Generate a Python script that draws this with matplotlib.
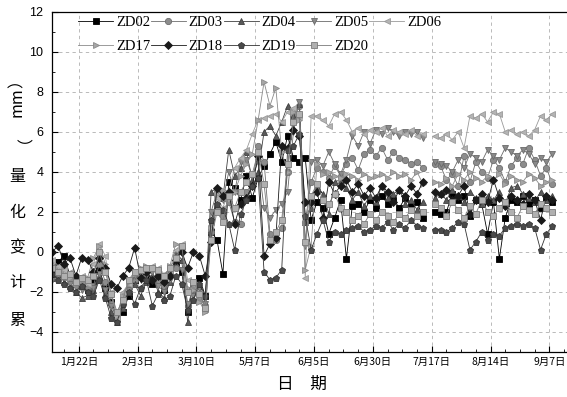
import numpy as np
import matplotlib
matplotlib.use("Agg")
import matplotlib.pyplot as plt
from matplotlib.ticker import MultipleLocator

nan = np.nan

# measurement index (every second survey), gap between 7月 and 8月 data
obs_index = list(range(1, 172, 2))

tick_pos = [10, 30, 50, 70, 90, 110, 130, 150, 170]
tick_labels = ["1月22日", "2月3日", "3月10日", "5月7日", "6月5日",
               "6月30日", "7月17日", "8月14日", "9月7日"]

zd02 = [-1.0, -0.5, -0.2, -1.2, -1.5, -1.7, -1.9, -1.5, -0.9, -1.8,
        -2.5, -3.2, -3.0, -2.2, -1.4, -1.0, -1.3, -1.6, -1.2, -1.9,
        -1.1, -0.6, -1.0, -3.0, -1.6, -1.3, -2.2,
        1.0, 0.6, -1.1, 3.5, 3.2, 2.6, 3.8, 2.7, 3.7, 4.3, 4.9, 5.5, 4.5, 5.8, 4.7, 4.5, 4.7,
        1.6, 2.5, 2.2, 0.9, 1.7, 2.6, -0.35, 2.3, 2.4, 2.0,
        2.6, 2.2, 2.8, 2.4, 2.6, 2.2, 2.7, 2.3, 2.5, 1.7, nan,
        2.0, 1.9, 2.0, 2.9, 2.6, 2.8, 1.8, 2.6, 2.4, 0.9,
        2.5, -0.35, 1.7, 2.6, 2.5, 2.8, 2.4, 2.6, 2.2, 2.7, 2.5]
zd03 = [-1.2, -1.0, -0.8, -1.4, -1.6, -1.5, -1.8, -1.7, -0.6, -1.5,
        -2.6, -3.4, -2.6, -1.8, -1.4, -1.2, -1.0, -1.3, -1.5, -1.7,
        -1.1, -0.8, 0.2, -2.7, -1.8, -2.4, -2.9,
        1.0, 2.2, 1.8, 2.5, 1.5, 1.4, 3.0, 3.4, 5.3, 4.5, 0.9, 0.6, 1.2, 4.0, 6.8, 7.3, 1.5,
        3.5, 4.2, 4.0, 3.7, 4.3, 3.8, 4.4, 4.7, 4.1, 4.9,
        5.1, 4.8, 5.2, 4.6, 5.0, 4.7, 4.6, 4.4, 4.5, 4.2, nan,
        4.4, 4.3, 3.6, 3.9, 3.3, 4.8, 3.5, 4.5, 4.0, 3.7,
        4.6, 4.2, 3.5, 4.3, 4.7, 4.4, 5.2, 4.6, 3.8, 4.2, 3.4]
zd04 = [-1.3, -1.1, -1.5, -1.7, -2.0, -2.3, -2.2, -1.9, -1.2, -2.1,
        -3.0, -3.5, -2.8, -2.0, -1.6, -2.2, -1.5, -1.2, -2.0, -2.3,
        -1.5, 0.0, -0.4, -3.5, -2.0, -1.7, -2.5,
        3.0, 3.2, 2.7, 5.1, 3.8, 4.2, 5.0, 3.6, 4.0, 6.0, 6.3, 5.8, 6.5, 7.3, 6.8, 7.4, 1.5,
        2.2, 3.3, 2.9, 1.9, 3.5, 3.6, 3.2, 2.6, 3.0, 2.3,
        2.8, 2.5, 3.3, 2.7, 2.9, 3.1, 2.4, 2.6, 2.1, 2.5, nan,
        2.7, 2.9, 2.6, 3.1, 2.8, 2.5, 3.0, 2.7, 2.4, 2.8,
        2.6, 3.0, 2.4, 3.2, 3.3, 2.9, 2.7, 2.5, 3.0, 2.6, 2.8]
zd05 = [-1.4, -1.2, -1.3, -1.6, -1.8, -1.9, -2.0, -1.8, -1.1, -1.9,
        -2.7, -3.3, -2.5, -1.9, -1.2, -1.4, -1.2, -1.0, -1.7, -2.0,
        -1.4, -0.5, -0.9, -2.6, -2.2, -1.8, -2.6,
        2.0, 3.0, 2.6, 4.0, 3.0, 4.5, 4.6, 3.8, 4.5, 2.2, 1.7, 2.1, 2.4, 3.0, 6.0, 7.5, 0.3,
        4.5, 4.6, 4.3, 5.0, 4.4, 3.9, 4.6, 5.8, 5.3, 6.0,
        5.4, 6.1, 5.9, 6.2, 6.0, 5.8, 6.0, 5.9, 6.0, 5.7, nan,
        4.5, 4.4, 4.3, 4.0, 4.6, 4.2, 4.9, 4.7, 4.5, 5.1,
        4.8, 4.6, 5.2, 5.0, 4.8, 5.1, 4.9, 4.4, 4.7, 4.5, 4.9]
zd06 = [-0.4, -0.7, -0.9, -1.0, -1.3, -1.2, -1.6, -0.6, 0.4, -0.2,
        -2.0, -3.3, -2.0, -1.6, -1.0, -0.9, -0.8, -0.7, -0.8, -1.1,
        -0.9, 0.1, 0.4, -1.4, -1.6, -2.2, -2.8,
        1.5, 2.7, 2.2, 3.0, 4.2, 4.7, 5.1, 5.9, 6.6, 6.7, 6.8, 6.9, 6.5, 7.0, 7.2, 6.8, -1.3,
        6.8, 6.8, 6.6, 6.3, 6.9, 7.0, 6.6, 6.0, 6.2, 5.9,
        6.1, 6.0, 6.2, 5.8, 6.1, 6.0, 5.9, 6.1, 5.8, 5.9, nan,
        5.8, 5.7, 5.9, 5.6, 6.0, 5.2, 6.8, 6.7, 6.9, 6.5,
        7.0, 6.9, 6.0, 6.1, 5.9, 6.0, 5.8, 6.1, 6.8, 6.6, 6.9]
zd17 = [-0.6, -0.9, -1.1, -1.3, -1.6, -1.4, -1.3, -0.3, 0.3, -0.6,
        -2.2, -3.2, -2.2, -1.5, -1.1, -0.8, -0.7, -0.9, -1.0, -1.3,
        -0.7, 0.4, 0.2, -1.8, -1.9, -2.5, -3.0,
        1.2, 2.9, 3.1, 2.6, 3.0, 3.8, 4.4, 4.9, 6.6, 8.5, 7.3, 8.2, 5.0, 4.0, 7.0, 6.6, -0.9,
        0.3, 4.4, 3.9, 4.0, 3.8, 3.7, 3.9, 3.8, 3.6, 3.9,
        3.7, 3.8, 3.9, 3.7, 4.0, 3.8, 3.9, 3.6, 4.0, 3.4, nan,
        3.5, 3.4, 3.7, 3.3, 3.9, 3.6, 4.0, 3.7, 3.5, 3.8,
        3.6, 3.9, 3.4, 3.8, 3.6, 3.5, 3.9, 3.7, 3.3, 3.5, 3.6]
zd18 = [0.0, 0.3, -0.6, -0.3, -1.2, -0.3, -0.4, -1.0, -0.3, -0.8,
        -1.6, -1.8, -1.2, -0.8, 0.2, -1.3, -1.0, -1.4, -1.2, -1.5,
        -1.2, -0.4, 0.0, -0.8, 0.0, -0.2, -1.2,
        0.5, 3.2, 2.8, 3.0, 1.4, 2.4, 2.7, 3.3, 4.8, -0.2, 0.4, 0.7, 5.3, 5.2, 6.1, 5.8, 2.5,
        2.5, 3.0, 1.7, 3.5, 2.9, 3.3, 3.6, 3.0, 3.4, 2.8,
        3.2, 2.7, 3.3, 3.0, 2.5, 3.1, 2.8, 3.3, 2.9, 3.5, nan,
        3.0, 2.9, 3.1, 2.6, 2.8, 3.3, 1.9, 2.6, 2.9, 2.5,
        3.6, 2.7, 2.3, 2.8, 2.6, 2.4, 2.9, 2.6, 1.6, 2.8, 2.6]
zd19 = [-1.1, -1.4, -1.6, -1.8, -2.0, -1.7, -2.0, -2.2, -1.4, -2.3,
        -3.3, -3.5, -2.6, -2.0, -2.6, -1.8, -1.4, -2.7, -2.1, -2.4,
        -2.2, -1.2, -1.6, -2.9, -2.4, -1.6, -2.2,
        1.6, 2.4, 2.1, 1.4, 0.1, 1.9, 2.6, 3.3, 3.7, -1.0, -1.4, -1.3, -0.9, 5.1, 5.3, 5.9, 1.8,
        0.1, 0.9, 1.6, 0.5, 1.0, 0.9, 1.1, 1.2, 1.3, 1.0,
        1.1, 1.3, 1.2, 1.5, 1.1, 1.4, 1.2, 1.6, 1.3, 1.2, nan,
        1.1, 1.1, 1.0, 1.2, 1.5, 1.4, 0.1, 0.5, 1.0, 0.6,
        0.9, 0.8, 1.2, 1.3, 1.4, 1.3, 1.4, 1.2, 0.1, 0.9, 1.3]
zd20 = [-0.8, -1.0, -1.2, -1.1, -1.5, -1.3, -1.4, -1.2, 0.0, -1.0,
        -2.1, -3.0, -2.4, -1.4, -1.0, -0.9, -0.8, -0.8, -0.9, -1.2,
        -0.8, -0.3, 0.3, -2.0, -1.5, -2.1, -2.8,
        0.6, 2.0, 1.5, 2.8, 2.2, 3.0, 3.5, 3.9, 5.0, 3.4, 0.6, 1.0, 1.6, 4.4, 6.5, 6.9, 0.5,
        2.8, 3.4, 2.6, 2.4, 2.9, 2.2, 2.0, 1.6, 1.8, 1.4,
        1.9, 1.6, 2.0, 1.8, 1.5, 1.9, 1.7, 2.1, 1.8, 2.0, nan,
        2.4, 2.2, 1.8, 2.5, 2.1, 1.7, 2.3, 1.9, 2.6, 2.0,
        1.8, 2.2, 2.5, 2.0, 1.7, 2.3, 2.1, 1.9, 2.4, 2.2, 2.0]

# name, values, marker, face colour, edge colour
SERIES = [
    ("ZD02", zd02, "s", "#000000", "#000000"),
    ("ZD03", zd03, "o", "#8c8c8c", "#6e6e6e"),
    ("ZD04", zd04, "^", "#5a5a5a", "#404040"),
    ("ZD05", zd05, "v", "#8a8a8a", "#6a6a6a"),
    ("ZD06", zd06, "<", "#b4b4b4", "#9a9a9a"),
    ("ZD17", zd17, ">", "#a6a6a6", "#8a8a8a"),
    ("ZD18", zd18, "D", "#1a1a1a", "#1a1a1a"),
    ("ZD19", zd19, "p", "#4a4a4a", "#333333"),
    ("ZD20", zd20, "s", "#b0b0b0", "#7a7a7a"),
]

CJK = ["Noto Sans CJK SC", "DejaVu Sans"]

fig = plt.figure(figsize=(5.67, 3.97), dpi=100)
ax = fig.add_axes([0.0912, 0.114, 0.9088, 0.856])

handles = {}
for name, vals, mk, fc, ec in SERIES:
    (h,) = ax.plot(obs_index, vals, color=ec, lw=0.6, marker=mk, ms=4.5,
                   mfc=fc, mec=ec, mew=0.6, label=name)
    handles[name] = h

ax.set_xlim(0.8, 176)
ax.set_ylim(-5, 12)
ax.set_xticks(tick_pos)
ax.set_xticklabels(tick_labels, family=CJK, fontsize=7.5)
ax.xaxis.set_minor_locator(MultipleLocator(5))
ax.set_yticks(range(-4, 13, 2))
ax.yaxis.set_minor_locator(MultipleLocator(1))
for lab in ax.get_yticklabels():
    lab.set_family("Liberation Sans")
    lab.set_fontsize(9)
ax.tick_params(which="both", direction="in", top=False, right=False)
ax.tick_params(which="major", length=4, width=0.8)
ax.tick_params(which="minor", length=2, width=0.6)
ax.tick_params(axis="y", pad=6)
ax.tick_params(axis="x", pad=4)
ax.grid(True, which="major", color="#b0b0b0", lw=0.6, ls=(0, (4, 4)))
ax.set_axisbelow(True)
ax.spines["right"].set_visible(False)
for s in ("left", "bottom", "top"):
    ax.spines[s].set_linewidth(0.9)

# legend filled row by row: ZD02..ZD06 on top, ZD17..ZD20 below
order = ["ZD02", "ZD17", "ZD03", "ZD18", "ZD04", "ZD19", "ZD05", "ZD20", "ZD06"]
ax.legend([handles[n] for n in order], order, ncol=5, frameon=False,
          loc="upper left", bbox_to_anchor=(78 / 567, 1 - 16 / 397),
          bbox_transform=fig.transFigure, borderpad=0, borderaxespad=0,
          handlelength=2.4, handletextpad=0.2, columnspacing=0.05,
          labelspacing=0.75, prop={"family": "Liberation Serif", "size": 10.5})

# x label
fig.text(302 / 567, 1 - 384 / 397, "日　期", family=CJK, fontsize=12,
         ha="center", va="center")

# vertical y label, CJK characters upright
ylab = [("累", 320, 0), ("计", 283, 0), ("变", 248, 0), ("化", 213, 0),
        ("量", 177, 0), ("（", 135, 90), ("mm", 102, 90), ("）", 80, 90)]
for ch, ypix, rot in ylab:
    fig.text(17 / 567, 1 - ypix / 397, ch, family=CJK, fontsize=11.5,
             rotation=rot, ha="center", va="center")

fig.savefig("out.png", dpi=100)
